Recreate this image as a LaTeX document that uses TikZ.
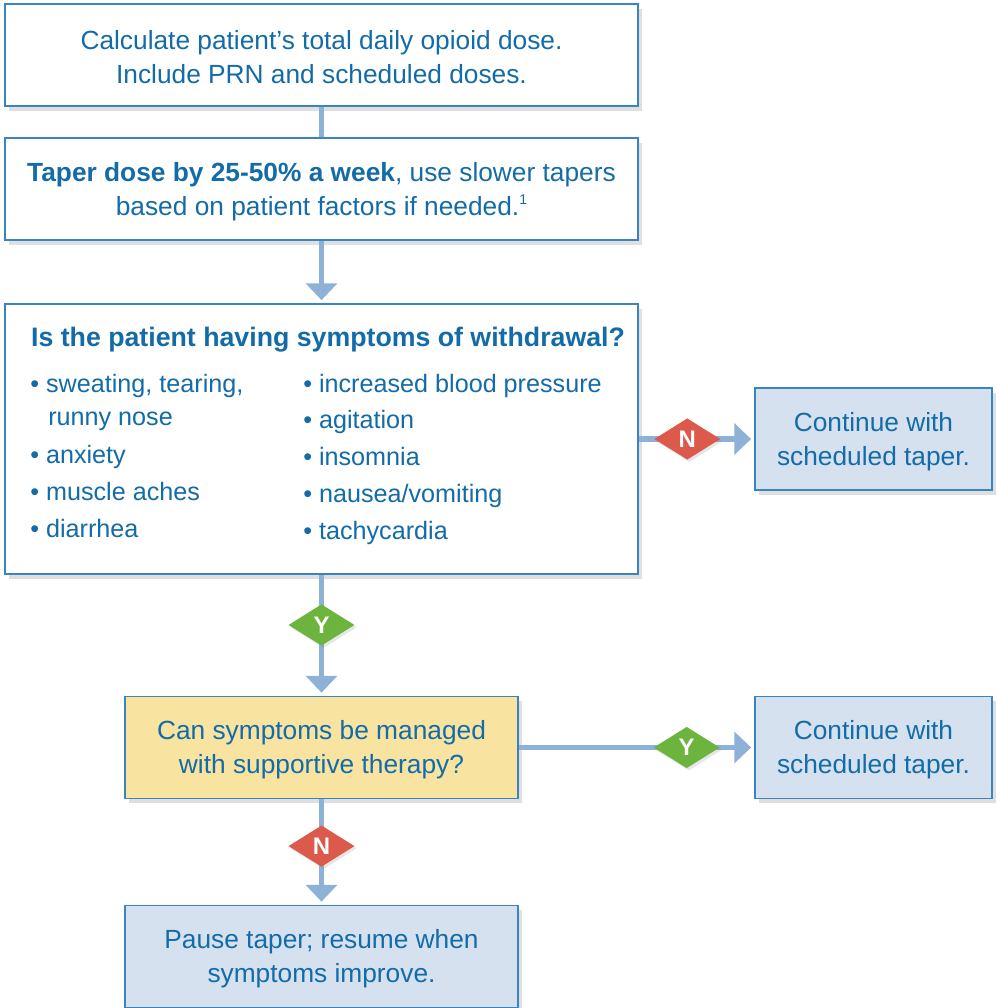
\documentclass[tikz,border=0pt]{standalone}
\usepackage{fontspec}
\setmainfont{Liberation Sans}
\usetikzlibrary{shapes.geometric,arrows.meta,shadows}

\definecolor{txtblue}{HTML}{136BA8}
\definecolor{edgeblue}{HTML}{3A84C1}
\definecolor{linkblue}{HTML}{8DB1D7}
\definecolor{paleblue}{HTML}{D5E1EE}
\definecolor{paleyellow}{HTML}{F8E3A1}
\definecolor{nored}{HTML}{DC5A4B}
\definecolor{yesgreen}{HTML}{6DB43F}

\tikzset{
  box/.style={draw=edgeblue, line width=0.9pt, fill=white, text=txtblue,
    align=center, inner sep=0pt, font=\fontsize{18.7}{24.2}\selectfont,
    drop shadow={shadow xshift=0.1cm, shadow yshift=-0.12cm, opacity=0.25}},
  widebox/.style={box, minimum width=15.825cm, minimum height=2.55cm},
  sidebox/.style={box, fill=paleblue, minimum width=5.925cm, minimum height=2.55cm},
  midbox/.style={box, minimum width=9.825cm, minimum height=2.55cm},
  item/.style={anchor=west, inner sep=0pt, text=txtblue, text height=0.72em, text depth=0pt,
    font=\fontsize{17.9}{23}\selectfont},
  link/.style={draw=linkblue, line width=3.6pt},
  tip/.style={-{Triangle[width=0.77cm,length=0.42cm]}, shorten >=0.08cm},
  answer/.style={diamond, minimum width=1.7cm, minimum height=1.08cm, aspect=1.6, inner sep=0pt,
    text=white, font=\fontsize{17}{17}\selectfont\bfseries,
    drop shadow={shadow xshift=0.05cm, shadow yshift=-0.06cm, opacity=0.2}},
  nodiam/.style={answer, fill=nored},
  yesdiam/.style={answer, fill=yesgreen}
}

\begin{document}
\begin{tikzpicture}[x=0.025cm, y=-0.025cm]
  \useasboundingbox (0,0) rectangle (998,1008);

  % main column
  \node[widebox] (calc) at (321.5,55)
    {\strut Calculate patient’s total daily opioid dose.\\Include PRN and scheduled doses.};
  \node[widebox] (taper) at (321.5,189)
    {\strut\textbf{Taper dose by 25-50\% a week}, use slower tapers\\based on patient factors if needed.\raisebox{0.42em}{\fontsize{10}{10}\selectfont 1}};
  \node[box, minimum width=15.825cm, minimum height=6.75cm] (check) at (321.5,439) {};
  \node[midbox, fill=paleyellow] (manage) at (321.5,747.5)
    {\strut Can symptoms be managed\\with supportive therapy?};
  \node[midbox, fill=paleblue] (pause) at (321.5,956.5)
    {\strut Pause taper; resume when\\symptoms improve.};

  % side boxes
  \node[sidebox] (cont1) at (873.5,439) {\strut Continue with\\scheduled taper.};
  \node[sidebox] (cont2) at (873.5,747.5) {\strut Continue with\\scheduled taper.};

  % withdrawal question and symptoms
  \node[item, anchor=center, font=\fontsize{19}{24.2}\selectfont\bfseries] (ask) at (328,341)
    {Is the patient having symptoms of withdrawal?};
  \node[item] (sweat) at (30,387) {• sweating, tearing,};
  \node[item] (nose) at (48,420) {runny nose};
  \node[item] (anx) at (30,458) {• anxiety};
  \node[item] (ache) at (30,495) {• muscle aches};
  \node[item] (diar) at (30,532) {• diarrhea};
  \node[item] (bp) at (303,387) {• increased blood pressure};
  \node[item] (agit) at (303,423) {• agitation};
  \node[item] (insom) at (303,460) {• insomnia};
  \node[item] (naus) at (303,497) {• nausea/vomiting};
  \node[item] (tachy) at (303,534) {• tachycardia};

  % connectors
  \draw[link] (calc) -- (taper);
  \draw[link, tip] (taper) -- (check);
  \draw[link, tip] (check) -- node[nodiam, pos=0.42] (no1) {N} (cont1);
  \draw[link, tip] (check) -- node[yesdiam, pos=0.415] (yes1) {Y} (manage);
  \draw[link, tip] (manage) -- node[yesdiam, pos=0.713] (yes2) {Y} (cont2);
  \draw[link, tip] (manage) -- node[nodiam, pos=0.444] (no2) {N} (pause);
\end{tikzpicture}
\end{document}
